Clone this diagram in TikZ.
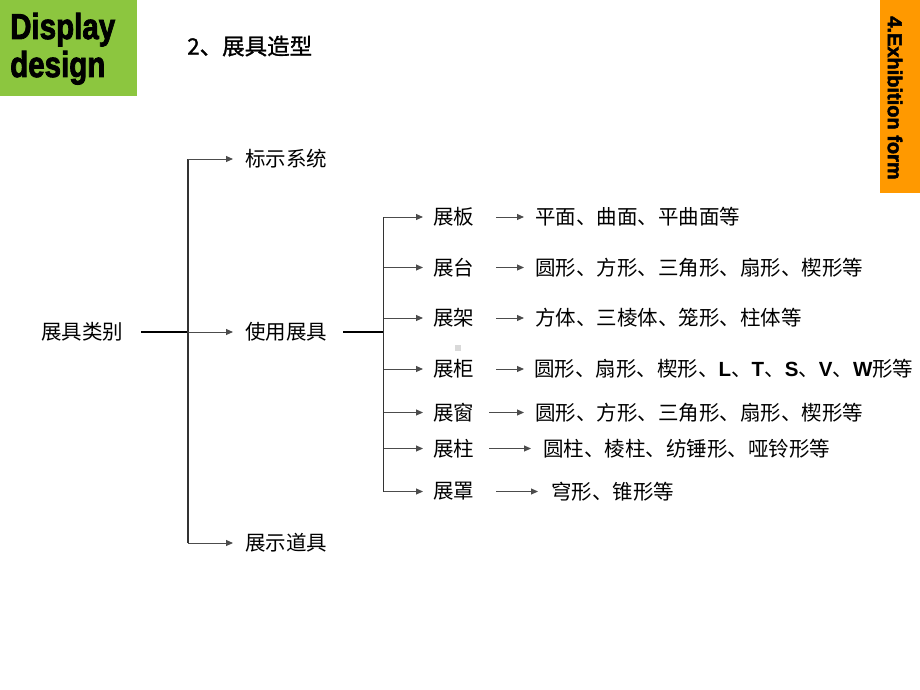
\documentclass[tikz,border=0pt]{standalone}
\usepackage{fontspec}
\setmainfont{Noto Sans CJK SC}
\newfontfamily\cjkbold[FakeBold=1.2]{Noto Sans CJK SC}
\newfontfamily\arialfam{Liberation Sans}
\newfontfamily\arialheavy[UprightFont={* Bold}, FakeBold=2.5]{Liberation Sans}
\usetikzlibrary{arrows.meta}
\definecolor{dgreen}{HTML}{8CC63F}
\definecolor{dorange}{HTML}{FF9900}
\tikzset{
  txt/.style={inner sep=0pt, anchor=west, font=\fontsize{20.5pt}{23pt}\selectfont},
  arr/.style={draw=black!70, line width=1pt, -{Triangle[length=7pt,width=6pt]}},
  vline/.style={draw=black!80, line width=1.3pt},
  mainline/.style={draw=black, line width=1.8pt},
}
\newcommand{\LB}[1]{{\arialfam\bfseries #1}}
\begin{document}
\begin{tikzpicture}[x=1pt,y=-1pt]
\useasboundingbox (0,0) rectangle (920,690);
% header boxes
\fill[dgreen] (0,0) rectangle (137,96);
\node[inner sep=0pt, anchor=base west] (disp) at (10,39)
  {\scalebox{0.82}[1]{\arialheavy\fontsize{36pt}{38pt}\selectfont Display}};
\node[inner sep=0pt, anchor=base west] (des) at (10,77)
  {\scalebox{0.82}[1]{\arialheavy\fontsize{36pt}{38pt}\selectfont design}};
\node[inner sep=0pt, anchor=west] (title) at (187,46)
  {\cjkbold\fontsize{22.5pt}{25pt}\selectfont 2、展具造型};
\fill[dorange] (880,0) rectangle (920,193);
\node[inner sep=0pt, rotate=-90, anchor=center] (form) at (895,98)
  {\arialheavy\fontsize{20pt}{22pt}\selectfont 4.Exhibition form};
% tree level 1
\node[txt, anchor=center] (root) at (82,332) {展具类别};
\coordinate (j1) at (188,332);
\node[txt] (a1) at (245,159) {标示系统};
\node[txt] (a2) at (245,332) {使用展具};
\node[txt] (a3) at (245,543) {展示道具};
\draw[mainline] ([xshift=18pt]root.east) -- (j1);
\draw[vline] (j1 |- a1) -- (j1 |- a3);
\foreach \n in {a1,a2,a3} \draw[arr] (j1 |- \n) -- ([xshift=-12pt]\n.west);
% tree level 2
\coordinate (j2) at (383.5,332);
\draw[mainline] ([xshift=16pt]a2.east) -- (j2);
\node[txt] (b1) at (433,217) {展板};
\node[txt] (b2) at (433,267.5) {展台};
\node[txt] (b3) at (433,318) {展架};
\node[txt] (b4) at (433,369) {展柜};
\node[txt] (b5) at (433,412.5) {展窗};
\node[txt] (b6) at (433,448.5) {展柱};
\node[txt] (b7) at (433,491.5) {展罩};
\draw[vline] (j2 |- b1) -- (j2 |- b7);
\foreach \n in {b1,b2,b3,b4,b5,b6,b7} \draw[arr] (j2 |- \n) -- ([xshift=-10pt]\n.west);
% descriptions
\node[txt] (c1) at (535,217) {平面、曲面、平曲面等};
\node[txt] (c2) at (535,267.5) {圆形、方形、三角形、扇形、楔形等};
\node[txt] (c3) at (535,318) {方体、三棱体、笼形、柱体等};
\node[txt] (c4) at (534,369) {圆形、扇形、楔形、\LB{L}、\LB{T}、\LB{S}、\LB{V}、\LB{W}形等};
\node[txt] (c5) at (535,412.5) {圆形、方形、三角形、扇形、楔形等};
\node[txt] (c6) at (543,448.5) {圆柱、棱柱、纺锤形、哑铃形等};
\node[txt] (c7) at (551,491.5) {穹形、锥形等};
\draw[arr] ([xshift=22pt]b1.east) -- ([xshift=-11pt]c1.west);
\draw[arr] ([xshift=22pt]b2.east) -- ([xshift=-11pt]c2.west);
\draw[arr] ([xshift=22pt]b3.east) -- ([xshift=-11pt]c3.west);
\draw[arr] ([xshift=22pt]b4.east) -- ([xshift=-10pt]c4.west);
\draw[arr] ([xshift=15pt]b5.east) -- ([xshift=-11pt]c5.west);
\draw[arr] ([xshift=15pt]b6.east) -- ([xshift=-12pt]c6.west);
\draw[arr] ([xshift=22pt]b7.east) -- ([xshift=-13pt]c7.west);
% small grey mark
\fill[black!15] (455,345) rectangle (461,351);
\end{tikzpicture}
\end{document}
